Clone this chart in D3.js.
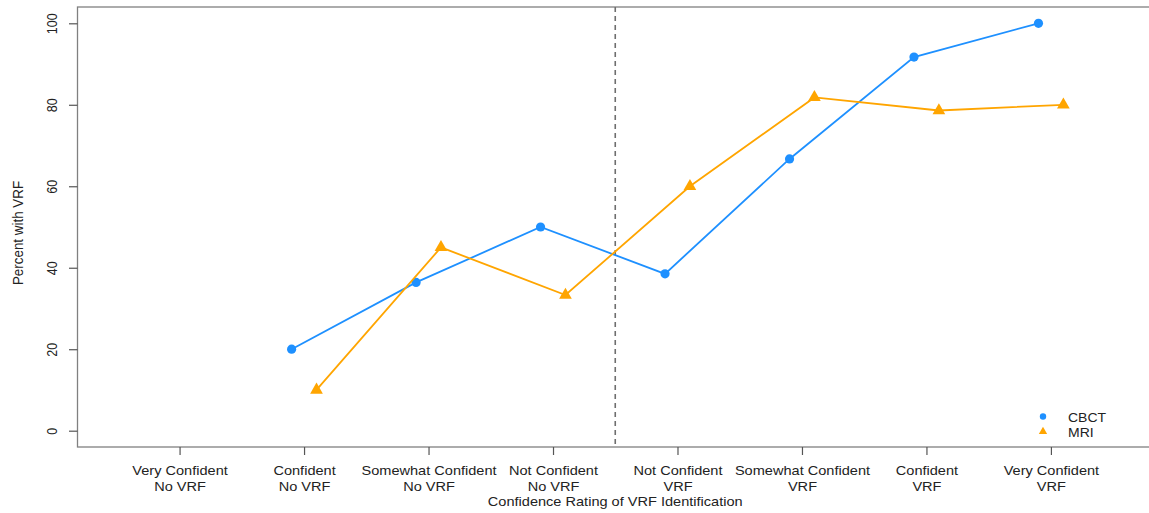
<!DOCTYPE html>
<html>
<head>
<meta charset="utf-8">
<script src="https://cdn.jsdelivr.net/npm/d3@7"></script>
<style>
  html, body { margin: 0; padding: 0; background: #fff; }
  svg { display: block; font-family: "Liberation Sans", Arial, sans-serif; }
</style>
</head>
<body>
<svg id="chart" width="1149" height="513"></svg>
<script>
// ---- data ----
const catTop = ["Very Confident", "Confident", "Somewhat Confident", "Not Confident",
                "Not Confident", "Somewhat Confident", "Confident", "Very Confident"];
const catBottom = ["No VRF", "No VRF", "No VRF", "No VRF", "VRF", "VRF", "VRF", "VRF"];
const cbct = [null, 20, 36.4, 50, 38.5, 66.7, 91.7, 100];
const mri  = [null, 10, 45, 33.3, 60, 81.8, 78.6, 80];
const yTicks = [0, 20, 40, 60, 80, 100];
const seriesNames = ["CBCT", "MRI"];

(function () {
// ---- layout ----
const pL = 77.5, pR = 1153, pT = 7, pB = 447;
const blue = "#1E90FF", orange = "#FFA500";
const sx = 1.12; // horizontal text stretch

const svg = d3.select("#chart");
const x = d3.scaleLinear().domain([0.18, 8.82]).range([pL, pR]);
const y = d3.scaleLinear().domain([-4, 104]).range([pB, pT]);

// box
svg.append("rect")
  .attr("x", pL).attr("y", pT)
  .attr("width", pR - pL).attr("height", pB - pT)
  .attr("fill", "none").attr("stroke", "#808080").attr("stroke-width", 1.3);

// y axis
const yAxis = d3.axisLeft(y).tickValues(yTicks).tickSize(8.5).tickFormat(d3.format("d"));
const gy = svg.append("g").attr("transform", `translate(${pL},0)`).call(yAxis);
gy.select(".domain").remove();
gy.selectAll(".tick line").attr("stroke", "#555").attr("stroke-width", 1.2);
gy.selectAll(".tick text")
  .attr("x", 0).attr("y", 0).attr("dy", 0)
  .attr("text-anchor", "middle")
  .attr("fill", "#222")
  .style("font-size", "12.5px")
  .attr("transform", `translate(-21,0) scale(${sx},1) rotate(-90)`);

// x axis
const xIdx = d3.range(1, catTop.length + 1);
const xAxis = d3.axisBottom(x).tickValues(xIdx).tickSize(8).tickFormat((d, i) => catTop[i]);
const gx = svg.append("g").attr("transform", `translate(0,${pB})`).call(xAxis);
gx.select(".domain").remove();
gx.selectAll(".tick line").attr("stroke", "#555").attr("stroke-width", 1.2);
gx.selectAll(".tick text").each(function (d, i) {
  const t = d3.select(this);
  t.text(null).attr("y", 0).attr("dy", 0)
   .attr("fill", "#222").style("font-size", "13px")
   .attr("transform", `scale(${sx},1)`);
  t.append("tspan").attr("x", 0).attr("y", 28).text(catTop[i]);
  t.append("tspan").attr("x", 0).attr("y", 44).text(catBottom[i]);
});

// axis titles
svg.append("text")
  .attr("transform", `translate(${(pL + pR) / 2},506) scale(${sx},1)`)
  .attr("text-anchor", "middle").attr("fill", "#222").style("font-size", "13px")
  .text("Confidence Rating of VRF Identification");
svg.append("text")
  .attr("transform", `translate(23.3,233) scale(${sx},1) rotate(-90)`)
  .attr("text-anchor", "middle").attr("fill", "#222").style("font-size", "13.4px")
  .text("Percent with VRF");

// dashed divider
svg.append("line")
  .attr("x1", x(4.5)).attr("x2", x(4.5))
  .attr("y1", pT).attr("y2", pB)
  .attr("stroke", "#6e6e6e").attr("stroke-width", 1.6)
  .attr("stroke-dasharray", "5,4");

// series
function drawSeries(vals, offset, color, symbolType, size) {
  const pts = vals.map((v, i) => ({ i: i + 1, v })).filter(p => p.v !== null);
  const line = d3.line().x(p => x(p.i + offset)).y(p => y(p.v));
  svg.append("path").datum(pts)
    .attr("d", line).attr("fill", "none")
    .attr("stroke", color).attr("stroke-width", 1.8);
  svg.selectAll(null).data(pts).enter().append("path")
    .attr("d", d3.symbol().type(symbolType).size(size))
    .attr("transform", p => `translate(${x(p.i + offset)},${y(p.v)})`)
    .attr("fill", color);
}
drawSeries(cbct, -0.1, blue, d3.symbolCircle, Math.PI * 4.6 * 4.6);
drawSeries(mri, 0.1, orange, d3.symbolTriangle, 70);

// legend
const legend = svg.append("g");
const legItems = [
  { name: seriesNames[0], color: blue, type: d3.symbolCircle, size: Math.PI * 3.2 * 3.2, yy: 416.5 },
  { name: seriesNames[1], color: orange, type: d3.symbolTriangle, size: 30, yy: 431.5 }
];
legItems.forEach(it => {
  legend.append("path")
    .attr("d", d3.symbol().type(it.type).size(it.size))
    .attr("transform", `translate(1043,${it.yy})`)
    .attr("fill", it.color);
  legend.append("text")
    .attr("transform", `translate(1068,${it.yy + 5}) scale(${sx},1)`)
    .attr("fill", "#222").style("font-size", "12.5px")
    .text(it.name);
});
})();
</script>
</body>
</html>
